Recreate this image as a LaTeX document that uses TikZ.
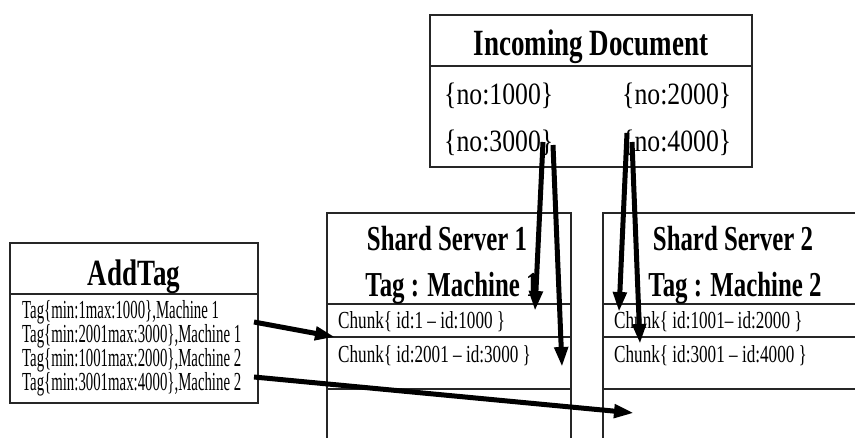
\documentclass[tikz,border=0pt]{standalone}
\usepackage{fontspec}
\setmainfont{Liberation Serif}
\usetikzlibrary{arrows.meta}
\newcommand\narrow[2]{\scalebox{#1}[1]{#2}}
\tikzset{
  frame/.style={line width=1.4pt, draw=black!85},
  txt/.style={inner sep=0pt, anchor=base west},
  ctitle/.style={inner sep=0pt, anchor=base},
  flow/.style={line width=5pt, -{Triangle[length=20pt,width=13pt]}},
}
\newcommand\titletext[1]{\fontsize{37}{37}\selectfont\bfseries\narrow{0.73}{#1}}
\newcommand\shardtext[1]{\fontsize{35}{35}\selectfont\bfseries\narrow{0.71}{#1}}
\newcommand\doctext[1]{\fontsize{31}{31}\selectfont\narrow{0.83}{#1}}
\newcommand\chunktext[1]{\fontsize{24.5}{24.5}\selectfont\narrow{0.70}{#1}}
\newcommand\tagtext[1]{\fontsize{26}{26}\selectfont\narrow{0.57}{#1}}
\begin{document}
\begin{tikzpicture}[x=1pt,y=-1pt]
\useasboundingbox (0,0) rectangle (855,437);

% Incoming document
\draw[frame] (430,15) rectangle (752,167);
\draw[frame] (430,66) -- (752,66);
\node[ctitle] (doctitle) at (591,55) {\titletext{Incoming Document}};
\node[txt] (no1) at (444,104) {\doctext{\{no:1000\}}};
\node[txt] (no2) at (622,104) {\doctext{\{no:2000\}}};
\node[txt] (no3) at (444,151) {\doctext{\{no:3000\}}};
\node[txt] (no4) at (622,151) {\doctext{\{no:4000\}}};

% AddTag table
\draw[frame] (10,243) rectangle (258,403);
\draw[frame] (10,294) -- (258,294);
\node[ctitle] (tagtitle) at (134,285) {\titletext{AddTag}};
\node[txt] (t1) at (22,318) {\tagtext{Tag\{min:1max:1000\},Machine 1}};
\node[txt] (t2) at (22,342) {\tagtext{Tag\{min:2001max:3000\},Machine 1}};
\node[txt] (t3) at (22,366) {\tagtext{Tag\{min:1001max:2000\},Machine 2}};
\node[txt] (t4) at (22,390) {\tagtext{Tag\{min:3001max:4000\},Machine 2}};

% Shard server 1
\draw[frame] (327,440) -- (327,213) -- (571,213) -- (571,440);
\draw[frame] (327,304) -- (571,304);
\draw[frame] (327,337) -- (571,337);
\draw[frame] (327,389) -- (571,389);
\node[ctitle] (s1a) at (447,250) {\shardtext{Shard Server 1}};
\node[ctitle] (s1b) at (452,296) {\shardtext{Tag : Machine 1}};
\node[txt] (c11) at (338,328) {\chunktext{Chunk\{ id:1 -- id:1000 \}}};
\node[txt] (c12) at (338,362) {\chunktext{Chunk\{ id:2001 -- id:3000 \}}};

% Shard server 2
\draw[frame] (603,440) -- (603,213) -- (860,213);
\draw[frame] (603,304) -- (860,304);
\draw[frame] (603,337) -- (860,337);
\draw[frame] (603,389) -- (860,389);
\node[ctitle] (s2a) at (733,250) {\shardtext{Shard Server 2}};
\node[ctitle] (s2b) at (735,296) {\shardtext{Tag : Machine 2}};
\node[txt] (c21) at (614,328) {\chunktext{Chunk\{ id:1001-- id:2000 \}}};
\node[txt] (c22) at (614,362) {\chunktext{Chunk\{ id:3001 -- id:4000 \}}};

% connector end points
\coordinate (a1s) at (543,142);
\coordinate (a1e) at (535,311);
\coordinate (a2s) at (553,145);
\coordinate (a2e) at (562,367);
\coordinate (a3s) at (627,133);
\coordinate (a3e) at (619,312);
\coordinate (a4s) at (632,142);
\coordinate (a4e) at (640,344);
\coordinate (a5s) at (254,322);
\coordinate (a5e) at (335,337);
\coordinate (a6s) at (254,377);
\coordinate (a6e) at (634,413);

\draw[flow] (a1s) -- (a1e);
\draw[flow] (a2s) -- (a2e);
\draw[flow] (a3s) -- (a3e);
\draw[flow] (a4s) -- (a4e);
\draw[flow] (a5s) -- (a5e);
\draw[flow] (a6s) -- (a6e);
\end{tikzpicture}
\end{document}
